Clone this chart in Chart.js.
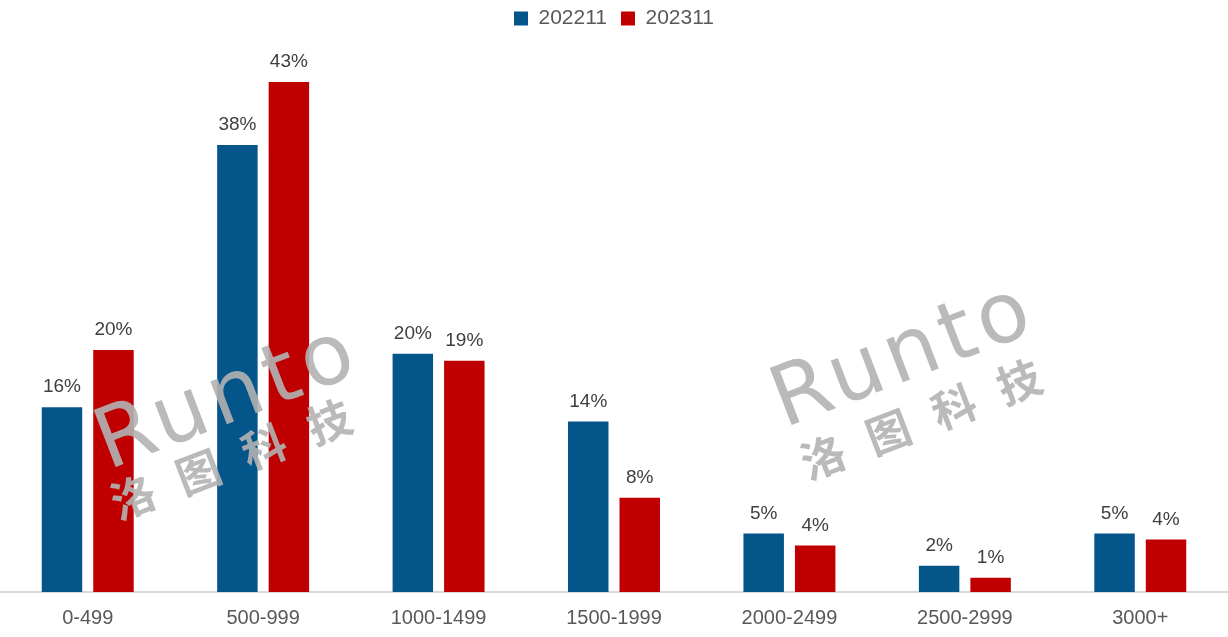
<!DOCTYPE html>
<html>
<head>
<meta charset="utf-8">
<script src="https://cdn.jsdelivr.net/npm/chart.js@4.4.0/dist/chart.umd.min.js"></script>
<style>
  html, body { margin: 0; padding: 0; background: #fff; }
  #wrap { width: 1228px; height: 637px; }
</style>
</head>
<body>
<div id="wrap"><canvas id="c"></canvas></div>
<script>
// price bands and share of sales (%)
const categories = ['0-499', '500-999', '1000-1499', '1500-1999', '2000-2499', '2500-2999', '3000+'];
const seriesNames = ['202211', '202311'];
const share2022 = [15.5, 37.5, 20.0, 14.3, 4.9, 2.2, 4.9];
const share2023 = [20.3, 42.8, 19.4, 7.9, 3.9, 1.2, 4.4];
const colors = ['#04558a', '#c00000'];

const FONT = "'Liberation Sans', Arial, sans-serif";

// percent labels over the bars
const barLabels = {
  id: 'barLabels',
  afterDatasetsDraw(chart) {
    const ctx = chart.ctx;
    ctx.save();
    ctx.font = '19px ' + FONT;
    ctx.fillStyle = '#404040';
    ctx.textAlign = 'center';
    ctx.textBaseline = 'alphabetic';
    chart.data.datasets.forEach((ds, i) => {
      chart.getDatasetMeta(i).data.forEach((bar, j) => {
        ctx.fillText(Math.round(ds.data[j]) + '%', bar.x, bar.y - 15);
      });
    });
    ctx.restore();
  }
};

// faint logo stamp
const watermark = {
  id: 'watermark',
  afterDatasetsDraw(chart) {
    const ctx = chart.ctx;
    const spots = [[108, 470, 133, 497], [784, 428, 823, 457]];
    const ang = -21 * Math.PI / 180;
    ctx.save();
    ctx.fillStyle = 'rgba(178,178,178,0.9)';
    spots.forEach(s => {
      ctx.save();
      ctx.translate(s[0], s[1]);
      ctx.rotate(ang);
      ctx.font = '84px ' + "'DejaVu Sans', sans-serif";
      ctx.letterSpacing = '6px';
      ctx.textBaseline = 'alphabetic';
      ctx.textAlign = 'left';
      ctx.fillText('Runto', 0, 0);
      ctx.restore();
      ctx.save();
      ctx.translate(s[2], s[3]);
      ctx.rotate(ang);
      ctx.font = 'bold 44px ' + "'Noto Sans CJK SC', sans-serif";
      ctx.textAlign = 'center';
      ctx.textBaseline = 'middle';
      ['洛', '图', '科', '技'].forEach((ch, k) => ctx.fillText(ch, k * 70, 0));
      ctx.restore();
    });
    ctx.restore();
  }
};

new Chart(document.getElementById('c'), {
  type: 'bar',
  data: {
    labels: categories,
    datasets: [
      { label: seriesNames[0], data: share2022, backgroundColor: colors[0] },
      { label: seriesNames[1], data: share2023, backgroundColor: colors[1] }
    ]
  },
  options: {
    responsive: true,
    maintainAspectRatio: false,
    animation: false,
    layout: { padding: { left: 0, right: 0, top: -6, bottom: -7 } },
    datasets: { bar: { categoryPercentage: 0.587, barPercentage: 0.786 } },
    plugins: {
      legend: {
        position: 'top',
        padding: { top: -6, bottom: 10 },
        labels: {
          boxWidth: 14, boxHeight: 14, padding: 14,
          color: '#595959',
          font: { size: 21, family: FONT }
        }
      },
      tooltip: { enabled: false }
    },
    scales: {
      x: {
        grid: { display: false, drawTicks: false },
        border: { display: true, color: '#d9d9d9', width: 2 },
        ticks: { color: '#595959', font: { size: 20, family: FONT }, padding: 14 }
      },
      y: { display: false, min: 0, max: 46.4 }
    }
  },
  plugins: [barLabels, watermark]
});
</script>
</body>
</html>
